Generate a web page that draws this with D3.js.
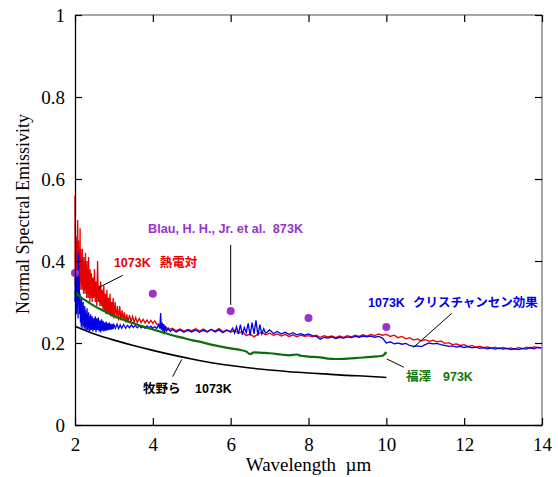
<!DOCTYPE html>
<html><head><meta charset="utf-8">
<script src="https://cdn.jsdelivr.net/npm/d3@7"></script>
<style>body{margin:0;background:#fff}svg{display:block}</style>
</head><body>
<svg id="c" width="558" height="477"></svg>
<script>
// ---- data ----
const xTicks = [2,4,6,8,10,12,14];
const yTicks = [0,0.2,0.4,0.6,0.8,1];
const yTickLabels = ["0","0.2","0.4","0.6","0.8","1"];

// 熱電対 1073K (red)
const redSeries = [
[2.00,0.56],[2.005,0.34],[2.01,0.49],[2.02,0.34],[2.03,0.44],[2.04,0.31],[2.05,0.46],[2.06,0.35],[2.07,0.50],[2.08,0.33],[2.09,0.45],[2.10,0.34],[2.11,0.42],[2.12,0.33],[2.13,0.48],[2.14,0.35],[2.15,0.43],[2.16,0.33],[2.17,0.41],[2.18,0.34],[2.19,0.43],[2.20,0.33],[2.21,0.40],[2.22,0.32],[2.23,0.41],[2.24,0.33],[2.25,0.39],[2.26,0.32],[2.27,0.42],[2.28,0.33],[2.29,0.39],[2.30,0.31],[2.31,0.40],[2.32,0.32],[2.33,0.38],[2.34,0.31],[2.35,0.41],[2.36,0.32],[2.37,0.37],[2.38,0.30],[2.39,0.38],[2.40,0.31],[2.42,0.37],[2.44,0.30],[2.46,0.36],[2.48,0.31],[2.50,0.38],[2.52,0.30],[2.54,0.35],[2.56,0.29],[2.58,0.40],[2.60,0.30],[2.62,0.34],[2.64,0.29],[2.66,0.35],[2.68,0.29],[2.70,0.33],[2.72,0.28],[2.74,0.34],[2.76,0.28],[2.78,0.32],[2.80,0.27],[2.82,0.33],[2.84,0.27],[2.86,0.31],[2.88,0.27],[2.90,0.32],[2.92,0.265],[2.94,0.30],[2.96,0.265],[2.98,0.31],[3.00,0.26],[3.03,0.30],[3.06,0.26],[3.09,0.29],[3.12,0.255],[3.15,0.29],[3.18,0.255],[3.21,0.28],[3.24,0.255],[3.27,0.275],[3.30,0.25],[3.33,0.27],[3.36,0.25],[3.40,0.268],[3.44,0.252],[3.48,0.265],[3.52,0.25],[3.56,0.262],[3.60,0.25],[3.65,0.26],[3.70,0.25],[3.75,0.258],[3.80,0.249],[3.85,0.256],[3.90,0.248],[3.95,0.255],[4.00,0.248],[4.05,0.254],[4.10,0.246],[4.15,0.245],[4.20,0.238],[4.25,0.24],[4.30,0.234],[4.35,0.238],[4.40,0.232],[4.50,0.236],[4.60,0.23],[4.70,0.234],[4.80,0.229],[4.90,0.233],[5.00,0.23],[5.10,0.235],[5.20,0.229],[5.30,0.234],[5.40,0.228],[5.50,0.233],[5.60,0.229],[5.70,0.235],[5.80,0.228],[5.90,0.232],[6.00,0.226],[6.10,0.231],[6.20,0.224],[6.30,0.228],[6.40,0.218],[6.50,0.222],[6.60,0.215],[6.70,0.222],[6.80,0.226],[6.90,0.22],[7.00,0.224],[7.10,0.219],[7.20,0.222],[7.30,0.217],[7.40,0.221],[7.50,0.216],[7.60,0.22],[7.70,0.215],[7.80,0.219],[7.90,0.216],[8.00,0.218],[8.10,0.215],[8.20,0.219],[8.30,0.214],[8.40,0.218],[8.50,0.215],[8.60,0.217],[8.70,0.213],[8.80,0.217],[8.90,0.214],[9.00,0.218],[9.10,0.215],[9.20,0.219],[9.30,0.216],[9.40,0.22],[9.50,0.217],[9.60,0.221],[9.70,0.218],[9.80,0.222],[9.90,0.219],[10.00,0.221],[10.10,0.216],[10.20,0.219],[10.30,0.213],[10.40,0.216],[10.50,0.21],[10.60,0.213],[10.70,0.207],[10.80,0.21],[10.90,0.205],[11.00,0.208],[11.10,0.204],[11.20,0.207],[11.30,0.203],[11.40,0.205],[11.50,0.199],[11.60,0.201],[11.70,0.196],[11.80,0.198],[11.90,0.194],[12.00,0.196],[12.10,0.191],[12.20,0.194],[12.30,0.19],[12.40,0.192],[12.50,0.188],[12.60,0.191],[12.70,0.187],[12.80,0.19],[12.90,0.186],[13.00,0.189],[13.10,0.186],[13.20,0.188],[13.30,0.185],[13.40,0.189],[13.50,0.186],[13.60,0.19],[13.70,0.187],[13.80,0.191],[13.90,0.188],[14.00,0.189]
];

// クリスチャンセン効果 1073K (blue)
const blueSeries = [
[2.00,0.30],[2.01,0.36],[2.02,0.28],[2.03,0.34],[2.04,0.27],[2.05,0.38],[2.06,0.29],[2.07,0.33],[2.08,0.26],[2.09,0.42],[2.10,0.30],[2.11,0.36],[2.12,0.27],[2.13,0.32],[2.14,0.25],[2.15,0.30],[2.16,0.24],[2.17,0.31],[2.18,0.235],[2.19,0.29],[2.20,0.25],[2.21,0.30],[2.22,0.24],[2.23,0.28],[2.24,0.235],[2.25,0.29],[2.26,0.24],[2.27,0.28],[2.28,0.23],[2.29,0.27],[2.30,0.24],[2.31,0.285],[2.32,0.232],[2.33,0.27],[2.34,0.238],[2.35,0.275],[2.36,0.23],[2.37,0.265],[2.38,0.228],[2.40,0.27],[2.42,0.232],[2.44,0.265],[2.46,0.228],[2.48,0.26],[2.50,0.232],[2.52,0.265],[2.54,0.226],[2.56,0.26],[2.58,0.232],[2.60,0.262],[2.62,0.228],[2.64,0.255],[2.66,0.226],[2.68,0.258],[2.70,0.23],[2.72,0.254],[2.74,0.228],[2.76,0.25],[2.78,0.23],[2.80,0.252],[2.82,0.23],[2.84,0.248],[2.86,0.232],[2.88,0.25],[2.90,0.232],[2.92,0.247],[2.94,0.233],[2.96,0.246],[2.98,0.234],[3.00,0.245],[3.04,0.236],[3.08,0.246],[3.12,0.235],[3.16,0.244],[3.20,0.236],[3.25,0.245],[3.30,0.236],[3.35,0.243],[3.40,0.237],[3.45,0.244],[3.50,0.238],[3.55,0.243],[3.60,0.237],[3.65,0.242],[3.70,0.237],[3.75,0.241],[3.80,0.236],[3.85,0.242],[3.90,0.237],[3.95,0.241],[4.00,0.236],[4.05,0.24],[4.10,0.235],[4.15,0.245],[4.18,0.235],[4.20,0.273],[4.22,0.232],[4.24,0.25],[4.26,0.228],[4.28,0.246],[4.30,0.226],[4.32,0.242],[4.35,0.229],[4.40,0.236],[4.45,0.228],[4.50,0.233],[4.60,0.227],[4.70,0.232],[4.80,0.226],[4.90,0.231],[5.00,0.227],[5.10,0.232],[5.20,0.226],[5.30,0.231],[5.40,0.227],[5.50,0.233],[5.60,0.227],[5.70,0.232],[5.80,0.225],[5.90,0.231],[6.00,0.228],[6.05,0.236],[6.10,0.224],[6.15,0.24],[6.20,0.222],[6.25,0.245],[6.30,0.22],[6.35,0.238],[6.40,0.225],[6.45,0.248],[6.50,0.218],[6.55,0.25],[6.60,0.222],[6.65,0.255],[6.70,0.218],[6.75,0.245],[6.80,0.222],[6.85,0.235],[6.90,0.224],[7.00,0.232],[7.10,0.223],[7.20,0.228],[7.30,0.222],[7.40,0.226],[7.50,0.221],[7.60,0.225],[7.70,0.22],[7.80,0.223],[7.90,0.219],[8.00,0.222],[8.10,0.218],[8.20,0.216],[8.30,0.209],[8.40,0.214],[8.50,0.212],[8.60,0.215],[8.70,0.211],[8.80,0.214],[8.90,0.212],[9.00,0.215],[9.10,0.213],[9.20,0.216],[9.30,0.214],[9.40,0.217],[9.50,0.215],[9.60,0.217],[9.70,0.214],[9.80,0.216],[9.90,0.212],[10.00,0.2],[10.10,0.203],[10.20,0.198],[10.30,0.2],[10.40,0.197],[10.50,0.199],[10.60,0.194],[10.70,0.192],[10.80,0.193],[10.90,0.191],[11.00,0.196],[11.10,0.2],[11.20,0.198],[11.30,0.199],[11.40,0.196],[11.50,0.194],[11.60,0.192],[11.70,0.193],[11.80,0.19],[11.90,0.192],[12.00,0.189],[12.10,0.191],[12.20,0.188],[12.30,0.19],[12.40,0.187],[12.50,0.189],[12.60,0.186],[12.70,0.188],[12.80,0.185],[12.90,0.188],[13.00,0.185],[13.10,0.187],[13.20,0.184],[13.30,0.186],[13.40,0.184],[13.50,0.187],[13.60,0.185],[13.70,0.189],[13.80,0.186],[13.90,0.19],[14.00,0.187]
];

// 福澤 973K (green)
const greenSeries = [
[2.0,0.325],[2.1,0.315],[2.25,0.305],[2.5,0.29],[2.75,0.278],[3.0,0.266],[3.25,0.257],[3.5,0.248],[3.75,0.24],[4.0,0.233],[4.25,0.226],[4.5,0.219],[4.75,0.213],[5.0,0.207],[5.25,0.202],[5.5,0.196],[5.75,0.191],[6.0,0.187],[6.25,0.183],[6.4,0.179],[6.5,0.173],[6.6,0.177],[6.8,0.176],[7.0,0.175],[7.3,0.172],[7.5,0.17],[7.7,0.172],[7.8,0.169],[8.0,0.167],[8.3,0.165],[8.5,0.162],[8.7,0.161],[9.0,0.162],[9.3,0.164],[9.6,0.166],[9.9,0.169],[10.0,0.178]
];

// 牧野ら 1073K (black)
const blackSeries = [
[2.0,0.241],[2.5,0.222],[3.0,0.207],[3.5,0.194],[4.0,0.182],[4.5,0.171],[5.0,0.161],[5.5,0.152],[6.0,0.145],[6.5,0.139],[7.0,0.134],[7.5,0.13],[8.0,0.127],[8.5,0.124],[9.0,0.121],[9.5,0.119],[10.0,0.116]
];

// Blau, H. H., Jr. et al. 873K (purple points)
const blauX = [2,4,6,8,10];
const blauY = [0.371,0.32,0.278,0.261,0.239];

// ---- chart ----
const svg = d3.select("#c");
const x = d3.scaleLinear().domain([2,14]).range([75,542]);
const y = d3.scaleLinear().domain([0,1]).range([425,15]);
const serif = "'Liberation Serif','Times New Roman',serif";
const sans = "'Liberation Sans',Arial,'Noto Sans CJK JP',sans-serif";
const cjk = "'Noto Sans CJK JP','Liberation Sans',sans-serif";

const line = d3.line().x(d=>x(d[0])).y(d=>y(d[1]));
const smooth = d3.line().x(d=>x(d[0])).y(d=>y(d[1])).curve(d3.curveMonotoneX);

svg.append("path").datum(redSeries).attr("d",line).attr("fill","none").attr("stroke","#e60000").attr("stroke-width",1.3);
svg.append("path").datum(blueSeries).attr("d",line).attr("fill","none").attr("stroke","#0000e6").attr("stroke-width",1.3);
svg.append("path").datum(greenSeries).attr("d",smooth).attr("fill","none").attr("stroke","#0a6e0a").attr("stroke-width",2.2);
svg.append("path").datum(blackSeries).attr("d",smooth).attr("fill","none").attr("stroke","#000").attr("stroke-width",1.6);

svg.selectAll("circle.blau").data(blauX.map((v,i)=>[v,blauY[i]])).enter().append("circle")
  .attr("class","blau").attr("cx",d=>x(d[0])).attr("cy",d=>y(d[1])).attr("r",4).attr("fill","#9933cc");

// frame
svg.append("line").attr("x1",x(2)).attr("x2",x(14)).attr("y1",y(1)).attr("y2",y(1)).attr("stroke","#888").attr("stroke-width",1.5);
svg.append("line").attr("x1",x(14)).attr("x2",x(14)).attr("y1",y(0)).attr("y2",y(1)).attr("stroke","#888").attr("stroke-width",1.5);

// axes
const ax = svg.append("g").attr("transform",`translate(0,${y(0)})`)
  .call(d3.axisBottom(x).tickValues(xTicks).tickSizeInner(-7).tickSizeOuter(0).tickPadding(13).tickFormat(d3.format("d")));
const ay = svg.append("g").attr("transform",`translate(${x(2)},0)`)
  .call(d3.axisLeft(y).tickValues(yTicks).tickSizeInner(-7).tickSizeOuter(0).tickPadding(10).tickFormat((d,i)=>yTickLabels[i]));
const axTop = svg.append("g").attr("transform",`translate(0,${y(1)})`)
  .call(d3.axisTop(x).tickValues(xTicks).tickSizeInner(-7).tickSizeOuter(0).tickFormat(""));
const ayR = svg.append("g").attr("transform",`translate(${x(14)},0)`)
  .call(d3.axisRight(y).tickValues(yTicks).tickSizeInner(-7).tickSizeOuter(0).tickFormat(""));
axTop.select(".domain").remove(); ayR.select(".domain").remove();
[ax,ay].forEach(g=>{g.select(".domain").attr("stroke","#000").attr("stroke-width",1.3);
  g.selectAll("text").attr("font-family",serif).attr("font-size",19).attr("fill","#000");});
[ax,ay,axTop,ayR].forEach(g=>g.selectAll(".tick line").attr("stroke","#000").attr("stroke-width",1.2));

svg.append("text").attr("x",(x(2)+x(14))/2).attr("y",471).attr("text-anchor","middle")
  .attr("font-family",serif).attr("font-size",19).style("white-space","pre").text("Wavelength  \u00b5m");
svg.append("text").attr("transform",`translate(29,214) rotate(-90)`).attr("text-anchor","middle")
  .attr("font-family",serif).attr("font-size",18).text("Normal Spectral Emissivity");

// annotations (data coordinates)
function lead(a,b){svg.append("line").attr("x1",x(a[0])).attr("y1",y(a[1])).attr("x2",x(b[0])).attr("y2",y(b[1])).attr("stroke","#000").attr("stroke-width",1);}
function label(t,px,py,col,fam,fs){svg.append("text").attr("x",x(px)).attr("y",y(py)).attr("fill",col).attr("font-family",fam).attr("font-weight","bold").attr("font-size",fs||12.5).style("white-space","pre").text(t);}

lead([3.226,0.365],[2.624,0.336]);
label("1073K",3.00,0.385,"#e60000",sans); label("熱電対",4.18,0.385,"#e60000",cjk);

lead([6,0.439],[6,0.293]);
label("Blau, H. H., Jr. et al.  873K",3.876,0.468,"#9933cc",sans,12.7);

lead([11.68,0.272],[10.69,0.189]);
label("1073K",9.53,0.288,"#0000e6",sans); label("クリスチャンセン効果",10.685,0.288,"#0000e6",cjk);

lead([10.01,0.161],[10.45,0.141]);
label("福澤",10.505,0.107,"#117711",cjk); label("973K",11.456,0.107,"#117711",sans);

lead([4.742,0.160],[4.51,0.118]);
label("牧野ら",3.747,0.078,"#000",cjk); label("1073K",5.084,0.078,"#000",sans);
</script>
</body></html>
